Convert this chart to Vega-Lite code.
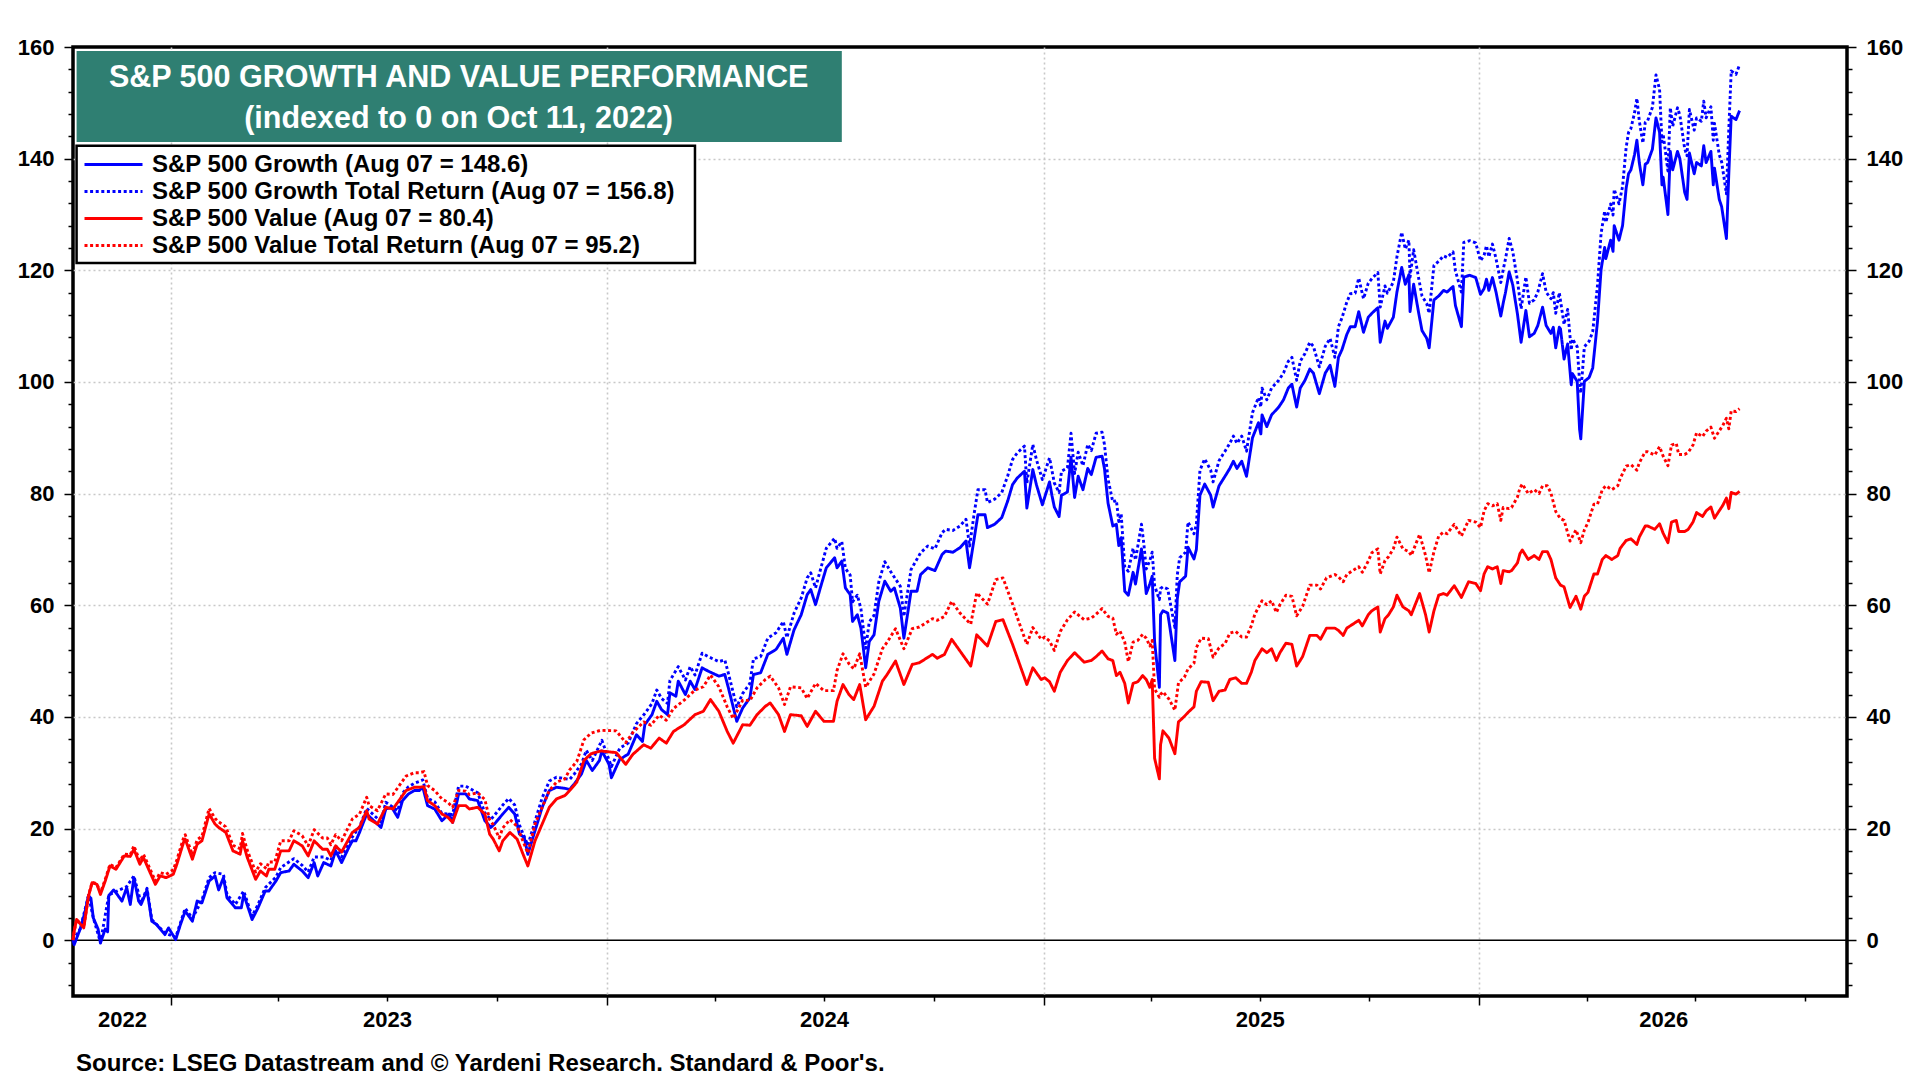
{
"$schema":"https://vega.github.io/schema/vega-lite/v6.json",
"width":1774,"height":949,
"autosize":{"type":"none"},
"padding":{"left":73,"top":47,"right":73,"bottom":84},
"background":"white",
"config":{
 "font":"Liberation Sans",
 "view":{"stroke":"#000000","strokeWidth":3.5},
 "axis":{"domain":false,"tickColor":"#000000","tickWidth":1.5,"labelFont":"Liberation Sans","labelFontSize":22,"labelFontWeight":"bold","labelColor":"#000000","gridColor":"#c8c8c8","gridDash":[2,3],"gridWidth":1.6,"labelFlush":false,"labelOverlap":false,"labelBound":false}
},
"title":{"text":"Source: LSEG Datastream and © Yardeni Research. Standard & Poor's.","orient":"bottom","anchor":"start","frame":"group","offset":18,"dx":3,"font":"Liberation Sans","fontSize":24,"fontWeight":"bold","color":"#000000"},
"datasets":{
"G":[{"d":"2022-10-11","v":0},{"d":"2022-10-12","v":-0.8},{"d":"2022-10-17","v":2},{"d":"2022-10-21","v":5},{"d":"2022-10-24","v":8},{"d":"2022-10-26","v":7.5},{"d":"2022-10-28","v":4},{"d":"2022-11-01","v":2},{"d":"2022-11-03","v":-0.5},{"d":"2022-11-07","v":2},{"d":"2022-11-09","v":1.5},{"d":"2022-11-10","v":8},{"d":"2022-11-14","v":9},{"d":"2022-11-16","v":8.5},{"d":"2022-11-21","v":7},{"d":"2022-11-25","v":9.4},{"d":"2022-11-28","v":6.4},{"d":"2022-12-01","v":11.2},{"d":"2022-12-05","v":7},{"d":"2022-12-07","v":6.4},{"d":"2022-12-12","v":9},{"d":"2022-12-16","v":3.4},{"d":"2022-12-20","v":2.8},{"d":"2022-12-27","v":1},{"d":"2022-12-30","v":2.2},{"d":"2023-01-05","v":0.1},{"d":"2023-01-09","v":2.8},{"d":"2023-01-13","v":5.2},{"d":"2023-01-19","v":3.4},{"d":"2023-01-23","v":7},{"d":"2023-01-27","v":6.7},{"d":"2023-02-02","v":10.6},{"d":"2023-02-07","v":11.5},{"d":"2023-02-10","v":9},{"d":"2023-02-14","v":11.2},{"d":"2023-02-17","v":7.6},{"d":"2023-02-24","v":5.8},{"d":"2023-03-01","v":5.8},{"d":"2023-03-03","v":8.2},{"d":"2023-03-10","v":3.7},{"d":"2023-03-15","v":5.8},{"d":"2023-03-21","v":8.8},{"d":"2023-03-24","v":8.8},{"d":"2023-03-30","v":10.6},{"d":"2023-04-03","v":12.1},{"d":"2023-04-10","v":12.4},{"d":"2023-04-14","v":13.6},{"d":"2023-04-21","v":12.4},{"d":"2023-04-26","v":11.2},{"d":"2023-05-01","v":13.9},{"d":"2023-05-04","v":11.5},{"d":"2023-05-09","v":13.9},{"d":"2023-05-15","v":13.3},{"d":"2023-05-19","v":16},{"d":"2023-05-24","v":13.9},{"d":"2023-05-30","v":16.6},{"d":"2023-06-02","v":17.8},{"d":"2023-06-05","v":17.8},{"d":"2023-06-08","v":19.3},{"d":"2023-06-14","v":22.6},{"d":"2023-06-20","v":21.4},{"d":"2023-06-26","v":20.2},{"d":"2023-06-30","v":23.5},{"d":"2023-07-05","v":23.8},{"d":"2023-07-10","v":22},{"d":"2023-07-14","v":25},{"d":"2023-07-19","v":26.2},{"d":"2023-07-24","v":26.8},{"d":"2023-07-28","v":26.8},{"d":"2023-07-31","v":27.4},{"d":"2023-08-04","v":24.1},{"d":"2023-08-10","v":23.5},{"d":"2023-08-16","v":21.4},{"d":"2023-08-22","v":22.6},{"d":"2023-08-25","v":21.1},{"d":"2023-08-30","v":26.2},{"d":"2023-09-05","v":26.2},{"d":"2023-09-08","v":25.3},{"d":"2023-09-15","v":25},{"d":"2023-09-21","v":21.4},{"d":"2023-09-26","v":20.2},{"d":"2023-09-29","v":20.8},{"d":"2023-10-06","v":22.6},{"d":"2023-10-11","v":23.8},{"d":"2023-10-16","v":22.6},{"d":"2023-10-20","v":19},{"d":"2023-10-24","v":18.4},{"d":"2023-10-27","v":15.4},{"d":"2023-11-02","v":19.6},{"d":"2023-11-08","v":23.8},{"d":"2023-11-14","v":26.8},{"d":"2023-11-20","v":27.4},{"d":"2023-11-27","v":27.2},{"d":"2023-12-01","v":27},{"d":"2023-12-05","v":28},{"d":"2023-12-11","v":29.8},{"d":"2023-12-15","v":32.2},{"d":"2023-12-20","v":30.4},{"d":"2023-12-26","v":32.2},{"d":"2023-12-28","v":33.9},{"d":"2024-01-03","v":31.5},{"d":"2024-01-05","v":29.1},{"d":"2024-01-12","v":32.4},{"d":"2024-01-19","v":33.3},{"d":"2024-01-26","v":36.8},{"d":"2024-01-31","v":35.6},{"d":"2024-02-02","v":38.6},{"d":"2024-02-08","v":40.4},{"d":"2024-02-12","v":42.8},{"d":"2024-02-16","v":41.3},{"d":"2024-02-21","v":40.4},{"d":"2024-02-23","v":44.3},{"d":"2024-02-28","v":43.7},{"d":"2024-03-01","v":46.4},{"d":"2024-03-07","v":44},{"d":"2024-03-11","v":46.4},{"d":"2024-03-15","v":44.9},{"d":"2024-03-21","v":48.8},{"d":"2024-03-26","v":48.2},{"d":"2024-04-01","v":47.6},{"d":"2024-04-04","v":47.3},{"d":"2024-04-09","v":47.6},{"d":"2024-04-12","v":45.2},{"d":"2024-04-19","v":39.2},{"d":"2024-04-24","v":41.6},{"d":"2024-04-30","v":43.4},{"d":"2024-05-03","v":47.6},{"d":"2024-05-09","v":47.9},{"d":"2024-05-15","v":51.2},{"d":"2024-05-22","v":52.1},{"d":"2024-05-28","v":54.1},{"d":"2024-05-31","v":51.2},{"d":"2024-06-06","v":55.6},{"d":"2024-06-12","v":58.3},{"d":"2024-06-17","v":61.9},{"d":"2024-06-20","v":62.8},{"d":"2024-06-24","v":60.1},{"d":"2024-06-28","v":63.1},{"d":"2024-07-03","v":66.7},{"d":"2024-07-10","v":68.5},{"d":"2024-07-12","v":66.7},{"d":"2024-07-16","v":67.9},{"d":"2024-07-19","v":63.1},{"d":"2024-07-23","v":61.9},{"d":"2024-07-25","v":57.1},{"d":"2024-07-29","v":58.3},{"d":"2024-08-01","v":55.9},{"d":"2024-08-05","v":48.8},{"d":"2024-08-08","v":53.5},{"d":"2024-08-12","v":54.7},{"d":"2024-08-16","v":60.7},{"d":"2024-08-21","v":64.3},{"d":"2024-08-26","v":62.5},{"d":"2024-08-29","v":63.1},{"d":"2024-09-03","v":59.5},{"d":"2024-09-06","v":54.1},{"d":"2024-09-12","v":62.5},{"d":"2024-09-17","v":62.5},{"d":"2024-09-20","v":65.5},{"d":"2024-09-26","v":66.7},{"d":"2024-10-02","v":66.2},{"d":"2024-10-08","v":69.1},{"d":"2024-10-11","v":69.7},{"d":"2024-10-17","v":69.5},{"d":"2024-10-23","v":70.3},{"d":"2024-10-28","v":71.5},{"d":"2024-10-31","v":66.7},{"d":"2024-11-04","v":72.1},{"d":"2024-11-07","v":76.2},{"d":"2024-11-13","v":76.2},{"d":"2024-11-15","v":73.9},{"d":"2024-11-21","v":74.5},{"d":"2024-11-27","v":75.7},{"d":"2024-12-02","v":78.7},{"d":"2024-12-06","v":81.6},{"d":"2024-12-10","v":82.8},{"d":"2024-12-16","v":84},{"d":"2024-12-18","v":77.4},{"d":"2024-12-23","v":84.3},{"d":"2024-12-26","v":81.6},{"d":"2024-12-31","v":78},{"d":"2025-01-06","v":82.1},{"d":"2025-01-08","v":79.7},{"d":"2025-01-10","v":77.6},{"d":"2025-01-14","v":75.9},{"d":"2025-01-16","v":79.7},{"d":"2025-01-21","v":80.3},{"d":"2025-01-24","v":86.5},{"d":"2025-01-27","v":79.3},{"d":"2025-01-30","v":83.1},{"d":"2025-02-03","v":80.7},{"d":"2025-02-07","v":84.5},{"d":"2025-02-10","v":83.4},{"d":"2025-02-14","v":86.5},{"d":"2025-02-19","v":86.7},{"d":"2025-02-21","v":84.5},{"d":"2025-02-24","v":78.3},{"d":"2025-02-28","v":74.2},{"d":"2025-03-03","v":74.5},{"d":"2025-03-05","v":70.7},{"d":"2025-03-07","v":72.1},{"d":"2025-03-10","v":62.5},{"d":"2025-03-13","v":61.8},{"d":"2025-03-17","v":65.9},{"d":"2025-03-19","v":63.8},{"d":"2025-03-24","v":70.1},{"d":"2025-03-26","v":66.6},{"d":"2025-03-28","v":62.1},{"d":"2025-03-31","v":63.8},{"d":"2025-04-02","v":65.2},{"d":"2025-04-04","v":53.5},{"d":"2025-04-08","v":45.3},{"d":"2025-04-09","v":58.3},{"d":"2025-04-11","v":59},{"d":"2025-04-15","v":58.6},{"d":"2025-04-21","v":50.1},{"d":"2025-04-23","v":61.1},{"d":"2025-04-25","v":64.2},{"d":"2025-04-30","v":65.2},{"d":"2025-05-02","v":70.4},{"d":"2025-05-07","v":68.3},{"d":"2025-05-09","v":70},{"d":"2025-05-12","v":79.7},{"d":"2025-05-16","v":81.7},{"d":"2025-05-21","v":79.7},{"d":"2025-05-23","v":77.6},{"d":"2025-05-28","v":81.4},{"d":"2025-06-02","v":83.1},{"d":"2025-06-06","v":84.5},{"d":"2025-06-09","v":85.8},{"d":"2025-06-12","v":84.5},{"d":"2025-06-16","v":85.8},{"d":"2025-06-20","v":83.1},{"d":"2025-06-25","v":90},{"d":"2025-06-30","v":92.7},{"d":"2025-07-02","v":90.7},{"d":"2025-07-03","v":94.1},{"d":"2025-07-07","v":92},{"d":"2025-07-11","v":94.1},{"d":"2025-07-17","v":95.5},{"d":"2025-07-21","v":96.8},{"d":"2025-07-25","v":98.9},{"d":"2025-07-28","v":99.6},{"d":"2025-08-01","v":95.5},{"d":"2025-08-04","v":98.9},{"d":"2025-08-08","v":100.3},{"d":"2025-08-12","v":102.3},{"d":"2025-08-15","v":101.6},{"d":"2025-08-20","v":97.9},{"d":"2025-08-25","v":101.6},{"d":"2025-08-29","v":103},{"d":"2025-09-02","v":99.2},{"d":"2025-09-05","v":104.4},{"d":"2025-09-08","v":105.8},{"d":"2025-09-12","v":108.5},{"d":"2025-09-15","v":109.9},{"d":"2025-09-19","v":109.9},{"d":"2025-09-22","v":112.6},{"d":"2025-09-26","v":108.9},{"d":"2025-09-30","v":111.6},{"d":"2025-10-03","v":112.3},{"d":"2025-10-08","v":113.3},{"d":"2025-10-10","v":107.1},{"d":"2025-10-14","v":110.9},{"d":"2025-10-16","v":109.6},{"d":"2025-10-21","v":111.6},{"d":"2025-10-24","v":116.1},{"d":"2025-10-28","v":120.5},{"d":"2025-10-31","v":117.5},{"d":"2025-11-03","v":119.2},{"d":"2025-11-04","v":112.6},{"d":"2025-11-07","v":117.5},{"d":"2025-11-11","v":112.6},{"d":"2025-11-14","v":109.2},{"d":"2025-11-18","v":107.8},{"d":"2025-11-20","v":106.1},{"d":"2025-11-24","v":114.7},{"d":"2025-11-28","v":115.4},{"d":"2025-12-02","v":116.4},{"d":"2025-12-05","v":116.1},{"d":"2025-12-10","v":117.1},{"d":"2025-12-12","v":113.7},{"d":"2025-12-17","v":109.9},{"d":"2025-12-19","v":118.8},{"d":"2025-12-24","v":119.1},{"d":"2025-12-29","v":118.7},{"d":"2026-01-02","v":115.7},{"d":"2026-01-05","v":116.7},{"d":"2026-01-07","v":118.4},{"d":"2026-01-09","v":116.4},{"d":"2026-01-12","v":118.7},{"d":"2026-01-15","v":116.1},{"d":"2026-01-19","v":111.8},{"d":"2026-01-21","v":114.1},{"d":"2026-01-23","v":116.1},{"d":"2026-01-26","v":119.7},{"d":"2026-01-29","v":117.4},{"d":"2026-02-02","v":112.1},{"d":"2026-02-05","v":107.1},{"d":"2026-02-09","v":112.8},{"d":"2026-02-12","v":108.1},{"d":"2026-02-16","v":108.7},{"d":"2026-02-19","v":110.1},{"d":"2026-02-23","v":113.4},{"d":"2026-02-26","v":110.1},{"d":"2026-03-02","v":108.7},{"d":"2026-03-04","v":109.8},{"d":"2026-03-06","v":106.1},{"d":"2026-03-09","v":109.8},{"d":"2026-03-10","v":109.5},{"d":"2026-03-13","v":104.1},{"d":"2026-03-16","v":106.8},{"d":"2026-03-19","v":99.5},{"d":"2026-03-20","v":101.5},{"d":"2026-03-24","v":100.1},{"d":"2026-03-26","v":91.5},{"d":"2026-03-27","v":89.8},{"d":"2026-03-30","v":100.1},{"d":"2026-04-03","v":100.8},{"d":"2026-04-06","v":102.5},{"d":"2026-04-10","v":110.8},{"d":"2026-04-13","v":120.1},{"d":"2026-04-16","v":124.1},{"d":"2026-04-17","v":122.1},{"d":"2026-04-21","v":125.4},{"d":"2026-04-23","v":123.4},{"d":"2026-04-24","v":128},{"d":"2026-04-28","v":125.4},{"d":"2026-05-01","v":128},{"d":"2026-05-04","v":134.7},{"d":"2026-05-06","v":137.3},{"d":"2026-05-08","v":138},{"d":"2026-05-11","v":140.7},{"d":"2026-05-13","v":143.3},{"d":"2026-05-15","v":139.3},{"d":"2026-05-18","v":135.3},{"d":"2026-05-20","v":139},{"d":"2026-05-22","v":139.3},{"d":"2026-05-26","v":141.7},{"d":"2026-05-29","v":147.3},{"d":"2026-06-01","v":144.7},{"d":"2026-06-03","v":135.3},{"d":"2026-06-04","v":136.7},{"d":"2026-06-08","v":130},{"d":"2026-06-10","v":141.3},{"d":"2026-06-12","v":138},{"d":"2026-06-16","v":141.3},{"d":"2026-06-18","v":140},{"d":"2026-06-22","v":134},{"d":"2026-06-24","v":132.7},{"d":"2026-06-26","v":141},{"d":"2026-06-30","v":137.3},{"d":"2026-07-02","v":139.3},{"d":"2026-07-06","v":138.7},{"d":"2026-07-08","v":142.3},{"d":"2026-07-10","v":139.3},{"d":"2026-07-14","v":141.3},{"d":"2026-07-16","v":135.3},{"d":"2026-07-17","v":138.3},{"d":"2026-07-21","v":132.7},{"d":"2026-07-23","v":131.4},{"d":"2026-07-27","v":125.7},{"d":"2026-07-29","v":137.3},{"d":"2026-07-31","v":147.6},{"d":"2026-08-04","v":147},{"d":"2026-08-07","v":148.6}],
"GT":[{"d":"2022-10-11","v":0},{"d":"2022-10-17","v":2},{"d":"2022-10-24","v":8},{"d":"2022-10-28","v":4},{"d":"2022-11-03","v":-0.4},{"d":"2022-11-10","v":8.1},{"d":"2022-11-16","v":8.7},{"d":"2022-11-25","v":9.6},{"d":"2022-12-01","v":11.5},{"d":"2022-12-07","v":6.7},{"d":"2022-12-12","v":9.3},{"d":"2022-12-16","v":3.7},{"d":"2022-12-27","v":1.3},{"d":"2023-01-05","v":0.5},{"d":"2023-01-13","v":5.7},{"d":"2023-01-19","v":3.9},{"d":"2023-01-27","v":7.2},{"d":"2023-02-02","v":11.2},{"d":"2023-02-07","v":12.1},{"d":"2023-02-14","v":11.8},{"d":"2023-02-17","v":8.2},{"d":"2023-02-24","v":6.4},{"d":"2023-03-03","v":8.8},{"d":"2023-03-10","v":4.3},{"d":"2023-03-15","v":6.4},{"d":"2023-03-21","v":9.4},{"d":"2023-03-30","v":11.3},{"d":"2023-04-03","v":13},{"d":"2023-04-14","v":14.6},{"d":"2023-04-21","v":13.4},{"d":"2023-04-26","v":12.2},{"d":"2023-05-01","v":14.9},{"d":"2023-05-09","v":14.9},{"d":"2023-05-15","v":14.3},{"d":"2023-05-19","v":17},{"d":"2023-05-24","v":14.9},{"d":"2023-05-30","v":17.6},{"d":"2023-06-08","v":20.3},{"d":"2023-06-14","v":23.6},{"d":"2023-06-20","v":22.4},{"d":"2023-06-26","v":21.2},{"d":"2023-06-30","v":24.7},{"d":"2023-07-10","v":23.2},{"d":"2023-07-14","v":26.3},{"d":"2023-07-19","v":27.5},{"d":"2023-07-24","v":28.1},{"d":"2023-07-31","v":28.7},{"d":"2023-08-04","v":25.4},{"d":"2023-08-10","v":24.8},{"d":"2023-08-16","v":22.7},{"d":"2023-08-25","v":22.5},{"d":"2023-08-30","v":27.6},{"d":"2023-09-05","v":27.6},{"d":"2023-09-15","v":26.4},{"d":"2023-09-21","v":22.8},{"d":"2023-09-26","v":21.6},{"d":"2023-10-06","v":24.2},{"d":"2023-10-11","v":25.4},{"d":"2023-10-16","v":24.2},{"d":"2023-10-20","v":20.6},{"d":"2023-10-27","v":17},{"d":"2023-11-02","v":21.3},{"d":"2023-11-08","v":25.5},{"d":"2023-11-14","v":28.5},{"d":"2023-11-20","v":29.2},{"d":"2023-12-01","v":28.8},{"d":"2023-12-05","v":29.8},{"d":"2023-12-11","v":31.6},{"d":"2023-12-15","v":34},{"d":"2023-12-20","v":32.2},{"d":"2023-12-28","v":35.8},{"d":"2024-01-05","v":31.1},{"d":"2024-01-12","v":34.4},{"d":"2024-01-19","v":35.3},{"d":"2024-01-26","v":38.8},{"d":"2024-02-02","v":40.6},{"d":"2024-02-08","v":42.4},{"d":"2024-02-12","v":44.8},{"d":"2024-02-16","v":43.3},{"d":"2024-02-21","v":42.4},{"d":"2024-02-23","v":46.5},{"d":"2024-03-01","v":49},{"d":"2024-03-07","v":46.6},{"d":"2024-03-11","v":49},{"d":"2024-03-15","v":47.5},{"d":"2024-03-21","v":51.4},{"d":"2024-03-26","v":50.8},{"d":"2024-04-04","v":49.9},{"d":"2024-04-09","v":50.2},{"d":"2024-04-12","v":47.8},{"d":"2024-04-19","v":41.8},{"d":"2024-04-24","v":44.2},{"d":"2024-04-30","v":46},{"d":"2024-05-03","v":50.4},{"d":"2024-05-09","v":50.8},{"d":"2024-05-15","v":54.1},{"d":"2024-05-22","v":55.1},{"d":"2024-05-28","v":57.1},{"d":"2024-05-31","v":54.2},{"d":"2024-06-06","v":58.6},{"d":"2024-06-12","v":61.3},{"d":"2024-06-17","v":64.9},{"d":"2024-06-20","v":65.8},{"d":"2024-06-24","v":63.1},{"d":"2024-06-28","v":66.3},{"d":"2024-07-03","v":70.2},{"d":"2024-07-10","v":72},{"d":"2024-07-12","v":70.2},{"d":"2024-07-16","v":71.4},{"d":"2024-07-19","v":66.6},{"d":"2024-07-23","v":65.4},{"d":"2024-07-25","v":60.6},{"d":"2024-07-29","v":61.8},{"d":"2024-08-01","v":59.4},{"d":"2024-08-05","v":52.3},{"d":"2024-08-08","v":57},{"d":"2024-08-12","v":58.2},{"d":"2024-08-16","v":64.2},{"d":"2024-08-21","v":67.8},{"d":"2024-08-26","v":66},{"d":"2024-09-03","v":63.4},{"d":"2024-09-06","v":58},{"d":"2024-09-12","v":66.4},{"d":"2024-09-20","v":69.4},{"d":"2024-09-26","v":70.6},{"d":"2024-10-02","v":70.1},{"d":"2024-10-08","v":73},{"d":"2024-10-11","v":73.6},{"d":"2024-10-17","v":73.4},{"d":"2024-10-23","v":74.2},{"d":"2024-10-28","v":75.4},{"d":"2024-10-31","v":70.6},{"d":"2024-11-04","v":76.6},{"d":"2024-11-07","v":80.7},{"d":"2024-11-13","v":80.7},{"d":"2024-11-15","v":78.4},{"d":"2024-11-21","v":79},{"d":"2024-11-27","v":80.2},{"d":"2024-12-02","v":83.2},{"d":"2024-12-06","v":86.1},{"d":"2024-12-10","v":87.3},{"d":"2024-12-16","v":88.5},{"d":"2024-12-18","v":81.9},{"d":"2024-12-23","v":88.8},{"d":"2024-12-26","v":86.1},{"d":"2024-12-31","v":82.5},{"d":"2025-01-06","v":86.4},{"d":"2025-01-10","v":81.9},{"d":"2025-01-14","v":80.2},{"d":"2025-01-16","v":84},{"d":"2025-01-21","v":84.6},{"d":"2025-01-24","v":90.8},{"d":"2025-01-27","v":83.6},{"d":"2025-01-30","v":87.4},{"d":"2025-02-03","v":85},{"d":"2025-02-07","v":88.8},{"d":"2025-02-10","v":87.7},{"d":"2025-02-14","v":90.8},{"d":"2025-02-19","v":91},{"d":"2025-02-21","v":88.8},{"d":"2025-02-24","v":82.6},{"d":"2025-02-28","v":78.5},{"d":"2025-03-03","v":78.8},{"d":"2025-03-05","v":75},{"d":"2025-03-07","v":76.4},{"d":"2025-03-10","v":66.8},{"d":"2025-03-13","v":66.1},{"d":"2025-03-17","v":70.2},{"d":"2025-03-19","v":68.1},{"d":"2025-03-24","v":74.5},{"d":"2025-03-26","v":71},{"d":"2025-03-28","v":66.5},{"d":"2025-03-31","v":68},{"d":"2025-04-02","v":69.5},{"d":"2025-04-04","v":63.5},{"d":"2025-04-08","v":61},{"d":"2025-04-09","v":63},{"d":"2025-04-11","v":63.3},{"d":"2025-04-15","v":62.9},{"d":"2025-04-21","v":56},{"d":"2025-04-23","v":65.4},{"d":"2025-04-25","v":68.5},{"d":"2025-04-30","v":69.5},{"d":"2025-05-02","v":74.9},{"d":"2025-05-07","v":72.8},{"d":"2025-05-09","v":74.5},{"d":"2025-05-12","v":84.2},{"d":"2025-05-16","v":86.2},{"d":"2025-05-21","v":84.2},{"d":"2025-05-23","v":82.1},{"d":"2025-05-28","v":85.9},{"d":"2025-06-02","v":87.6},{"d":"2025-06-06","v":89},{"d":"2025-06-09","v":90.3},{"d":"2025-06-12","v":89},{"d":"2025-06-16","v":90.3},{"d":"2025-06-20","v":87.6},{"d":"2025-06-25","v":94.5},{"d":"2025-06-30","v":97.2},{"d":"2025-07-02","v":95.5},{"d":"2025-07-03","v":98.9},{"d":"2025-07-07","v":96.8},{"d":"2025-07-11","v":98.9},{"d":"2025-07-17","v":100.3},{"d":"2025-07-21","v":101.6},{"d":"2025-07-25","v":103.7},{"d":"2025-07-28","v":104.4},{"d":"2025-08-01","v":100.3},{"d":"2025-08-04","v":103.7},{"d":"2025-08-08","v":105.1},{"d":"2025-08-12","v":107.1},{"d":"2025-08-15","v":106.4},{"d":"2025-08-20","v":102.7},{"d":"2025-08-25","v":106.4},{"d":"2025-08-29","v":107.8},{"d":"2025-09-02","v":104.4},{"d":"2025-09-05","v":109.9},{"d":"2025-09-08","v":111.5},{"d":"2025-09-12","v":114.3},{"d":"2025-09-15","v":115.8},{"d":"2025-09-19","v":115.9},{"d":"2025-09-22","v":118.6},{"d":"2025-09-26","v":114.9},{"d":"2025-09-30","v":117.7},{"d":"2025-10-03","v":118.5},{"d":"2025-10-08","v":119.6},{"d":"2025-10-10","v":113.4},{"d":"2025-10-14","v":117.2},{"d":"2025-10-16","v":115.9},{"d":"2025-10-21","v":117.9},{"d":"2025-10-24","v":122.4},{"d":"2025-10-28","v":126.8},{"d":"2025-10-31","v":123.8},{"d":"2025-11-03","v":125.4},{"d":"2025-11-04","v":118.8},{"d":"2025-11-07","v":123.7},{"d":"2025-11-11","v":118.8},{"d":"2025-11-14","v":115.4},{"d":"2025-11-18","v":114},{"d":"2025-11-20","v":112.3},{"d":"2025-11-24","v":120.9},{"d":"2025-11-28","v":121.6},{"d":"2025-12-02","v":122.6},{"d":"2025-12-05","v":122.3},{"d":"2025-12-10","v":123.3},{"d":"2025-12-12","v":119.9},{"d":"2025-12-17","v":116.1},{"d":"2025-12-19","v":125},{"d":"2025-12-24","v":125.3},{"d":"2025-12-29","v":124.9},{"d":"2026-01-02","v":121.7},{"d":"2026-01-05","v":122.7},{"d":"2026-01-07","v":124.4},{"d":"2026-01-09","v":122.4},{"d":"2026-01-12","v":124.7},{"d":"2026-01-15","v":122.1},{"d":"2026-01-19","v":117.8},{"d":"2026-01-21","v":120.1},{"d":"2026-01-23","v":122.1},{"d":"2026-01-26","v":125.7},{"d":"2026-01-29","v":123.4},{"d":"2026-02-02","v":118.1},{"d":"2026-02-05","v":113.1},{"d":"2026-02-09","v":118.8},{"d":"2026-02-12","v":114.1},{"d":"2026-02-16","v":114.7},{"d":"2026-02-19","v":116.1},{"d":"2026-02-23","v":119.4},{"d":"2026-02-26","v":116.1},{"d":"2026-03-02","v":114.9},{"d":"2026-03-04","v":116},{"d":"2026-03-06","v":112.3},{"d":"2026-03-09","v":116},{"d":"2026-03-13","v":110.3},{"d":"2026-03-16","v":113},{"d":"2026-03-19","v":105.7},{"d":"2026-03-20","v":107.7},{"d":"2026-03-24","v":106.3},{"d":"2026-03-26","v":100},{"d":"2026-03-27","v":98},{"d":"2026-03-30","v":106.3},{"d":"2026-04-03","v":107.3},{"d":"2026-04-06","v":109},{"d":"2026-04-10","v":117.3},{"d":"2026-04-13","v":126.6},{"d":"2026-04-16","v":130.6},{"d":"2026-04-17","v":128.6},{"d":"2026-04-21","v":131.9},{"d":"2026-04-23","v":129.9},{"d":"2026-04-24","v":134.5},{"d":"2026-04-28","v":131.9},{"d":"2026-05-01","v":135},{"d":"2026-05-04","v":142},{"d":"2026-05-06","v":144.7},{"d":"2026-05-08","v":145.4},{"d":"2026-05-11","v":148.2},{"d":"2026-05-13","v":150.8},{"d":"2026-05-15","v":146.8},{"d":"2026-05-18","v":142.8},{"d":"2026-05-20","v":146.5},{"d":"2026-05-22","v":146.8},{"d":"2026-05-26","v":149.2},{"d":"2026-05-29","v":155},{"d":"2026-06-01","v":152.4},{"d":"2026-06-03","v":143},{"d":"2026-06-04","v":144.4},{"d":"2026-06-08","v":137.8},{"d":"2026-06-10","v":149.1},{"d":"2026-06-12","v":145.8},{"d":"2026-06-16","v":149.1},{"d":"2026-06-18","v":147.8},{"d":"2026-06-22","v":141.8},{"d":"2026-06-24","v":140.5},{"d":"2026-06-26","v":148.8},{"d":"2026-06-30","v":145.1},{"d":"2026-07-02","v":147.3},{"d":"2026-07-06","v":146.7},{"d":"2026-07-08","v":150.3},{"d":"2026-07-10","v":147.3},{"d":"2026-07-14","v":149.3},{"d":"2026-07-16","v":143.3},{"d":"2026-07-17","v":146.3},{"d":"2026-07-21","v":140.7},{"d":"2026-07-23","v":139.4},{"d":"2026-07-27","v":133.7},{"d":"2026-07-29","v":145.3},{"d":"2026-07-31","v":155.7},{"d":"2026-08-04","v":155.1},{"d":"2026-08-07","v":156.8}],
"V":[{"d":"2022-10-11","v":0},{"d":"2022-10-12","v":1.6},{"d":"2022-10-14","v":3.7},{"d":"2022-10-20","v":2.2},{"d":"2022-10-24","v":7.9},{"d":"2022-10-27","v":10.3},{"d":"2022-10-31","v":10},{"d":"2022-11-03","v":8.2},{"d":"2022-11-07","v":10.6},{"d":"2022-11-11","v":13.3},{"d":"2022-11-16","v":12.7},{"d":"2022-11-23","v":15.1},{"d":"2022-11-28","v":15},{"d":"2022-12-01","v":16.3},{"d":"2022-12-06","v":13.6},{"d":"2022-12-09","v":14.8},{"d":"2022-12-14","v":12.4},{"d":"2022-12-19","v":10},{"d":"2022-12-23","v":11.5},{"d":"2022-12-28","v":11.2},{"d":"2023-01-03","v":11.8},{"d":"2023-01-06","v":13.6},{"d":"2023-01-12","v":17.8},{"d":"2023-01-13","v":18.1},{"d":"2023-01-19","v":14.5},{"d":"2023-01-23","v":17.2},{"d":"2023-01-27","v":17.8},{"d":"2023-02-02","v":22.6},{"d":"2023-02-07","v":20.8},{"d":"2023-02-10","v":20.2},{"d":"2023-02-16","v":19.3},{"d":"2023-02-22","v":16},{"d":"2023-02-28","v":15.4},{"d":"2023-03-02","v":17.8},{"d":"2023-03-06","v":14.8},{"d":"2023-03-13","v":10.9},{"d":"2023-03-17","v":12.4},{"d":"2023-03-22","v":11.5},{"d":"2023-03-24","v":12.7},{"d":"2023-03-29","v":12.7},{"d":"2023-04-03","v":16},{"d":"2023-04-10","v":16},{"d":"2023-04-14","v":17.8},{"d":"2023-04-21","v":16.9},{"d":"2023-04-26","v":15.1},{"d":"2023-05-01","v":17.8},{"d":"2023-05-08","v":16.3},{"d":"2023-05-12","v":16.3},{"d":"2023-05-15","v":15.1},{"d":"2023-05-19","v":16.9},{"d":"2023-05-24","v":15.8},{"d":"2023-06-02","v":19.3},{"d":"2023-06-08","v":20.2},{"d":"2023-06-14","v":23.2},{"d":"2023-06-16","v":21.7},{"d":"2023-06-23","v":20.8},{"d":"2023-06-30","v":23.8},{"d":"2023-07-06","v":23.5},{"d":"2023-07-11","v":25},{"d":"2023-07-17","v":26.8},{"d":"2023-07-24","v":27.4},{"d":"2023-07-28","v":27.4},{"d":"2023-08-01","v":27.5},{"d":"2023-08-04","v":25},{"d":"2023-08-10","v":24.1},{"d":"2023-08-16","v":22.6},{"d":"2023-08-21","v":22},{"d":"2023-08-25","v":21.1},{"d":"2023-08-30","v":24.1},{"d":"2023-09-05","v":24.1},{"d":"2023-09-08","v":23.5},{"d":"2023-09-15","v":23.8},{"d":"2023-09-21","v":22.6},{"d":"2023-09-25","v":19},{"d":"2023-09-28","v":18.1},{"d":"2023-10-03","v":16},{"d":"2023-10-06","v":17.8},{"d":"2023-10-12","v":19.3},{"d":"2023-10-18","v":18.1},{"d":"2023-10-23","v":15.4},{"d":"2023-10-27","v":13.3},{"d":"2023-11-02","v":17.8},{"d":"2023-11-08","v":20.8},{"d":"2023-11-14","v":23.8},{"d":"2023-11-20","v":25.3},{"d":"2023-11-27","v":25.9},{"d":"2023-12-01","v":26.8},{"d":"2023-12-07","v":28.3},{"d":"2023-12-13","v":32.2},{"d":"2023-12-19","v":33.4},{"d":"2023-12-27","v":33.9},{"d":"2024-01-09","v":33.6},{"d":"2024-01-17","v":31.5},{"d":"2024-01-23","v":33.3},{"d":"2024-02-01","v":35},{"d":"2024-02-07","v":34.4},{"d":"2024-02-14","v":36.2},{"d":"2024-02-20","v":35.3},{"d":"2024-02-26","v":37.4},{"d":"2024-03-06","v":38.6},{"d":"2024-03-15","v":40.4},{"d":"2024-03-22","v":41},{"d":"2024-03-28","v":43.1},{"d":"2024-04-04","v":41},{"d":"2024-04-11","v":37.4},{"d":"2024-04-16","v":35.3},{"d":"2024-04-24","v":38.6},{"d":"2024-04-30","v":38.5},{"d":"2024-05-06","v":40.4},{"d":"2024-05-13","v":41.9},{"d":"2024-05-17","v":42.5},{"d":"2024-05-24","v":40.4},{"d":"2024-05-29","v":37.4},{"d":"2024-06-03","v":40.4},{"d":"2024-06-12","v":40.2},{"d":"2024-06-17","v":38.3},{"d":"2024-06-24","v":41},{"d":"2024-07-01","v":39.2},{"d":"2024-07-09","v":39.2},{"d":"2024-07-12","v":42.8},{"d":"2024-07-17","v":45.8},{"d":"2024-07-22","v":44},{"d":"2024-07-26","v":43.1},{"d":"2024-07-31","v":45.8},{"d":"2024-08-05","v":39.5},{"d":"2024-08-12","v":41.9},{"d":"2024-08-19","v":46.4},{"d":"2024-08-23","v":47.6},{"d":"2024-08-30","v":50},{"d":"2024-09-06","v":45.8},{"d":"2024-09-13","v":49.4},{"d":"2024-09-19","v":49.7},{"d":"2024-09-30","v":51.2},{"d":"2024-10-04","v":50.5},{"d":"2024-10-10","v":51.2},{"d":"2024-10-16","v":53.9},{"d":"2024-10-23","v":51.8},{"d":"2024-11-01","v":49.1},{"d":"2024-11-06","v":54.7},{"d":"2024-11-15","v":52.7},{"d":"2024-11-22","v":57.1},{"d":"2024-11-28","v":57.4},{"d":"2024-12-06","v":53},{"d":"2024-12-18","v":45.8},{"d":"2024-12-23","v":48.8},{"d":"2024-12-30","v":46.7},{"d":"2025-01-02","v":47},{"d":"2025-01-06","v":46.3},{"d":"2025-01-10","v":44.6},{"d":"2025-01-15","v":48},{"d":"2025-01-21","v":50.1},{"d":"2025-01-27","v":51.5},{"d":"2025-02-04","v":49.8},{"d":"2025-02-10","v":50.1},{"d":"2025-02-14","v":50.8},{"d":"2025-02-19","v":51.8},{"d":"2025-02-24","v":50.4},{"d":"2025-02-28","v":50.1},{"d":"2025-03-03","v":47.4},{"d":"2025-03-06","v":48},{"d":"2025-03-10","v":46},{"d":"2025-03-13","v":42.5},{"d":"2025-03-17","v":46},{"d":"2025-03-21","v":46.3},{"d":"2025-03-25","v":47.4},{"d":"2025-03-28","v":46.7},{"d":"2025-03-31","v":45.3},{"d":"2025-04-02","v":46.7},{"d":"2025-04-04","v":32.6},{"d":"2025-04-08","v":28.9},{"d":"2025-04-09","v":35},{"d":"2025-04-11","v":37.5},{"d":"2025-04-16","v":36.2},{"d":"2025-04-21","v":33.4},{"d":"2025-04-24","v":39.1},{"d":"2025-04-29","v":40.1},{"d":"2025-05-02","v":40.8},{"d":"2025-05-07","v":41.8},{"d":"2025-05-09","v":44.6},{"d":"2025-05-13","v":46.3},{"d":"2025-05-19","v":46.2},{"d":"2025-05-23","v":42.9},{"d":"2025-05-28","v":44.6},{"d":"2025-06-02","v":44.8},{"d":"2025-06-06","v":46.7},{"d":"2025-06-11","v":47},{"d":"2025-06-16","v":46},{"d":"2025-06-20","v":46},{"d":"2025-06-24","v":48},{"d":"2025-06-27","v":50.1},{"d":"2025-07-03","v":52.2},{"d":"2025-07-07","v":51.5},{"d":"2025-07-11","v":52.2},{"d":"2025-07-15","v":50.1},{"d":"2025-07-18","v":51.5},{"d":"2025-07-23","v":53.2},{"d":"2025-07-28","v":53},{"d":"2025-08-01","v":49.1},{"d":"2025-08-06","v":50.8},{"d":"2025-08-12","v":54.6},{"d":"2025-08-18","v":54.6},{"d":"2025-08-21","v":53.9},{"d":"2025-08-26","v":55.9},{"d":"2025-09-02","v":55.9},{"d":"2025-09-05","v":55.5},{"d":"2025-09-09","v":54.6},{"d":"2025-09-12","v":55.9},{"d":"2025-09-17","v":56.6},{"d":"2025-09-22","v":57.3},{"d":"2025-09-25","v":56.3},{"d":"2025-09-30","v":58.3},{"d":"2025-10-03","v":59},{"d":"2025-10-08","v":59.7},{"d":"2025-10-10","v":55.2},{"d":"2025-10-14","v":57.6},{"d":"2025-10-17","v":58.3},{"d":"2025-10-21","v":59.7},{"d":"2025-10-24","v":61.8},{"d":"2025-10-29","v":59.7},{"d":"2025-11-03","v":59},{"d":"2025-11-05","v":58.3},{"d":"2025-11-12","v":62.1},{"d":"2025-11-17","v":58.3},{"d":"2025-11-20","v":55.2},{"d":"2025-11-24","v":59},{"d":"2025-11-28","v":61.8},{"d":"2025-12-02","v":62.1},{"d":"2025-12-05","v":61.8},{"d":"2025-12-11","v":63.5},{"d":"2025-12-17","v":61.4},{"d":"2025-12-23","v":64.2},{"d":"2025-12-29","v":63.9},{"d":"2026-01-02","v":62.6},{"d":"2026-01-05","v":65.6},{"d":"2026-01-08","v":66.9},{"d":"2026-01-12","v":66.5},{"d":"2026-01-16","v":66.9},{"d":"2026-01-19","v":63.9},{"d":"2026-01-21","v":66.2},{"d":"2026-01-26","v":66},{"d":"2026-01-28","v":66.2},{"d":"2026-02-02","v":67.6},{"d":"2026-02-04","v":69.2},{"d":"2026-02-06","v":69.9},{"d":"2026-02-11","v":68.2},{"d":"2026-02-16","v":68.9},{"d":"2026-02-20","v":68.2},{"d":"2026-02-23","v":69.6},{"d":"2026-02-27","v":69.6},{"d":"2026-03-02","v":68.2},{"d":"2026-03-06","v":64.9},{"d":"2026-03-10","v":63.6},{"d":"2026-03-13","v":63.3},{"d":"2026-03-18","v":59.6},{"d":"2026-03-23","v":61.6},{"d":"2026-03-27","v":59.3},{"d":"2026-03-30","v":61.6},{"d":"2026-04-02","v":62.3},{"d":"2026-04-07","v":65.6},{"d":"2026-04-10","v":65.6},{"d":"2026-04-14","v":68.2},{"d":"2026-04-17","v":68.9},{"d":"2026-04-22","v":68.2},{"d":"2026-04-27","v":68.9},{"d":"2026-04-29","v":70.2},{"d":"2026-05-04","v":71.6},{"d":"2026-05-08","v":71.9},{"d":"2026-05-13","v":70.9},{"d":"2026-05-15","v":72.2},{"d":"2026-05-20","v":74.2},{"d":"2026-05-22","v":74.2},{"d":"2026-05-28","v":73.6},{"d":"2026-06-01","v":74.6},{"d":"2026-06-04","v":72.9},{"d":"2026-06-08","v":71.2},{"d":"2026-06-11","v":74.9},{"d":"2026-06-15","v":75.2},{"d":"2026-06-17","v":73.2},{"d":"2026-06-22","v":73.2},{"d":"2026-06-25","v":73.6},{"d":"2026-06-29","v":74.9},{"d":"2026-07-02","v":76.6},{"d":"2026-07-07","v":75.9},{"d":"2026-07-10","v":76.9},{"d":"2026-07-14","v":77.6},{"d":"2026-07-17","v":75.6},{"d":"2026-07-20","v":76.6},{"d":"2026-07-24","v":77.9},{"d":"2026-07-27","v":79.2},{"d":"2026-07-29","v":77.3},{"d":"2026-07-31","v":80.2},{"d":"2026-08-04","v":79.9},{"d":"2026-08-07","v":80.4}],
"VT":[{"d":"2022-10-11","v":0},{"d":"2022-10-12","v":1.6},{"d":"2022-10-14","v":3.7},{"d":"2022-10-20","v":2.3},{"d":"2022-10-24","v":8},{"d":"2022-10-27","v":10.4},{"d":"2022-10-31","v":10.1},{"d":"2022-11-03","v":8.5},{"d":"2022-11-07","v":10.9},{"d":"2022-11-11","v":13.6},{"d":"2022-11-16","v":13},{"d":"2022-11-23","v":15.4},{"d":"2022-11-28","v":15.3},{"d":"2022-12-01","v":16.9},{"d":"2022-12-06","v":14.2},{"d":"2022-12-09","v":15.4},{"d":"2022-12-14","v":13},{"d":"2022-12-19","v":10.6},{"d":"2022-12-23","v":12.1},{"d":"2022-12-28","v":11.8},{"d":"2023-01-03","v":12.6},{"d":"2023-01-06","v":14.4},{"d":"2023-01-12","v":18.6},{"d":"2023-01-13","v":18.9},{"d":"2023-01-19","v":15.3},{"d":"2023-01-23","v":18},{"d":"2023-01-27","v":18.6},{"d":"2023-02-02","v":23.6},{"d":"2023-02-07","v":21.8},{"d":"2023-02-10","v":21.2},{"d":"2023-02-16","v":20.3},{"d":"2023-02-22","v":17},{"d":"2023-02-28","v":16.4},{"d":"2023-03-02","v":19.1},{"d":"2023-03-06","v":16.1},{"d":"2023-03-13","v":12.2},{"d":"2023-03-17","v":13.7},{"d":"2023-03-22","v":12.8},{"d":"2023-03-24","v":14},{"d":"2023-03-29","v":14},{"d":"2023-04-03","v":17.8},{"d":"2023-04-10","v":17.8},{"d":"2023-04-14","v":19.6},{"d":"2023-04-21","v":18.7},{"d":"2023-04-26","v":16.9},{"d":"2023-05-01","v":19.8},{"d":"2023-05-08","v":18.3},{"d":"2023-05-12","v":18.3},{"d":"2023-05-15","v":17.1},{"d":"2023-05-19","v":18.9},{"d":"2023-05-24","v":17.8},{"d":"2023-06-02","v":21.7},{"d":"2023-06-08","v":22.6},{"d":"2023-06-14","v":25.6},{"d":"2023-06-16","v":24.1},{"d":"2023-06-23","v":23.2},{"d":"2023-06-30","v":26.2},{"d":"2023-07-06","v":26.1},{"d":"2023-07-11","v":27.6},{"d":"2023-07-17","v":29.4},{"d":"2023-07-24","v":30},{"d":"2023-07-28","v":30},{"d":"2023-08-01","v":30.2},{"d":"2023-08-04","v":27.7},{"d":"2023-08-10","v":26.8},{"d":"2023-08-16","v":25.3},{"d":"2023-08-21","v":24.7},{"d":"2023-08-25","v":23.8},{"d":"2023-08-30","v":26.8},{"d":"2023-09-05","v":26.7},{"d":"2023-09-08","v":26.1},{"d":"2023-09-15","v":26.4},{"d":"2023-09-21","v":25.2},{"d":"2023-09-25","v":21.6},{"d":"2023-09-28","v":20.7},{"d":"2023-10-03","v":18.3},{"d":"2023-10-06","v":20.1},{"d":"2023-10-12","v":21.6},{"d":"2023-10-18","v":20.4},{"d":"2023-10-23","v":17.7},{"d":"2023-10-27","v":15.6},{"d":"2023-11-02","v":20.8},{"d":"2023-11-08","v":23.8},{"d":"2023-11-14","v":26.8},{"d":"2023-11-20","v":28.3},{"d":"2023-11-27","v":28.9},{"d":"2023-12-01","v":30.5},{"d":"2023-12-07","v":32},{"d":"2023-12-13","v":35.9},{"d":"2023-12-19","v":37.1},{"d":"2023-12-27","v":37.6},{"d":"2024-01-09","v":37.5},{"d":"2024-01-17","v":35.4},{"d":"2024-01-23","v":37.2},{"d":"2024-02-01","v":39.1},{"d":"2024-02-07","v":38.5},{"d":"2024-02-14","v":40.3},{"d":"2024-02-20","v":39.4},{"d":"2024-02-26","v":41.5},{"d":"2024-03-06","v":43},{"d":"2024-03-15","v":44.8},{"d":"2024-03-22","v":45.4},{"d":"2024-03-28","v":47.5},{"d":"2024-04-04","v":45.4},{"d":"2024-04-11","v":41.8},{"d":"2024-04-16","v":39.7},{"d":"2024-04-24","v":43},{"d":"2024-04-30","v":42.9},{"d":"2024-05-06","v":45.2},{"d":"2024-05-13","v":46.7},{"d":"2024-05-17","v":47.3},{"d":"2024-05-24","v":45.2},{"d":"2024-05-29","v":42.2},{"d":"2024-06-03","v":45.4},{"d":"2024-06-12","v":45.2},{"d":"2024-06-17","v":43.3},{"d":"2024-06-24","v":46},{"d":"2024-07-01","v":44.7},{"d":"2024-07-09","v":44.7},{"d":"2024-07-12","v":48.3},{"d":"2024-07-17","v":51.3},{"d":"2024-07-22","v":49.5},{"d":"2024-07-26","v":48.6},{"d":"2024-07-31","v":51.3},{"d":"2024-08-05","v":45.3},{"d":"2024-08-12","v":47.7},{"d":"2024-08-19","v":52.2},{"d":"2024-08-23","v":53.4},{"d":"2024-08-30","v":55.8},{"d":"2024-09-06","v":52.2},{"d":"2024-09-13","v":55.8},{"d":"2024-09-19","v":56.1},{"d":"2024-09-30","v":57.6},{"d":"2024-10-04","v":57.3},{"d":"2024-10-10","v":58},{"d":"2024-10-16","v":60.7},{"d":"2024-10-23","v":58.6},{"d":"2024-11-01","v":56.6},{"d":"2024-11-06","v":62.2},{"d":"2024-11-15","v":60.2},{"d":"2024-11-22","v":64.6},{"d":"2024-11-28","v":64.9},{"d":"2024-12-06","v":60.2},{"d":"2024-12-18","v":53},{"d":"2024-12-23","v":56},{"d":"2024-12-30","v":53.9},{"d":"2025-01-02","v":54.3},{"d":"2025-01-06","v":53.6},{"d":"2025-01-10","v":51.9},{"d":"2025-01-15","v":55.3},{"d":"2025-01-21","v":57.4},{"d":"2025-01-27","v":58.8},{"d":"2025-02-04","v":57.4},{"d":"2025-02-10","v":57.7},{"d":"2025-02-14","v":58.4},{"d":"2025-02-19","v":59.4},{"d":"2025-02-24","v":58},{"d":"2025-02-28","v":57.7},{"d":"2025-03-03","v":54.8},{"d":"2025-03-06","v":55.4},{"d":"2025-03-10","v":53.4},{"d":"2025-03-13","v":49.9},{"d":"2025-03-17","v":53.4},{"d":"2025-03-21","v":53.7},{"d":"2025-03-25","v":54.8},{"d":"2025-03-28","v":54.1},{"d":"2025-03-31","v":52.7},{"d":"2025-04-02","v":53.7},{"d":"2025-04-04","v":45},{"d":"2025-04-08","v":43.5},{"d":"2025-04-09","v":44},{"d":"2025-04-11","v":44.5},{"d":"2025-04-16","v":43.2},{"d":"2025-04-21","v":41.2},{"d":"2025-04-24","v":46.1},{"d":"2025-04-29","v":47.1},{"d":"2025-05-02","v":48.6},{"d":"2025-05-07","v":49.6},{"d":"2025-05-09","v":52.4},{"d":"2025-05-13","v":54.1},{"d":"2025-05-19","v":54},{"d":"2025-05-23","v":50.7},{"d":"2025-05-28","v":52.4},{"d":"2025-06-02","v":53.1},{"d":"2025-06-06","v":55},{"d":"2025-06-11","v":55.3},{"d":"2025-06-16","v":54.3},{"d":"2025-06-20","v":54.3},{"d":"2025-06-24","v":56.3},{"d":"2025-06-27","v":58.4},{"d":"2025-07-03","v":60.8},{"d":"2025-07-07","v":60.1},{"d":"2025-07-11","v":60.8},{"d":"2025-07-15","v":58.7},{"d":"2025-07-18","v":60.1},{"d":"2025-07-23","v":61.8},{"d":"2025-07-28","v":61.6},{"d":"2025-08-01","v":58.1},{"d":"2025-08-06","v":59.8},{"d":"2025-08-12","v":63.6},{"d":"2025-08-18","v":63.6},{"d":"2025-08-21","v":62.9},{"d":"2025-08-26","v":64.9},{"d":"2025-09-02","v":65.5},{"d":"2025-09-05","v":65.1},{"d":"2025-09-09","v":64.2},{"d":"2025-09-12","v":65.5},{"d":"2025-09-17","v":66.2},{"d":"2025-09-22","v":66.9},{"d":"2025-09-25","v":65.9},{"d":"2025-09-30","v":67.9},{"d":"2025-10-03","v":69.4},{"d":"2025-10-08","v":70.1},{"d":"2025-10-10","v":65.6},{"d":"2025-10-14","v":68},{"d":"2025-10-17","v":68.7},{"d":"2025-10-21","v":70.1},{"d":"2025-10-24","v":72.2},{"d":"2025-10-29","v":70.1},{"d":"2025-11-03","v":69.6},{"d":"2025-11-05","v":68.9},{"d":"2025-11-12","v":72.7},{"d":"2025-11-17","v":68.9},{"d":"2025-11-20","v":65.8},{"d":"2025-11-24","v":69.6},{"d":"2025-11-28","v":72.4},{"d":"2025-12-02","v":73.1},{"d":"2025-12-05","v":72.8},{"d":"2025-12-11","v":74.5},{"d":"2025-12-17","v":72.4},{"d":"2025-12-23","v":75.2},{"d":"2025-12-29","v":74.9},{"d":"2026-01-02","v":73.9},{"d":"2026-01-05","v":76.9},{"d":"2026-01-08","v":78.2},{"d":"2026-01-12","v":77.8},{"d":"2026-01-16","v":78.2},{"d":"2026-01-19","v":75.2},{"d":"2026-01-21","v":77.5},{"d":"2026-01-26","v":77.3},{"d":"2026-01-28","v":77.5},{"d":"2026-02-02","v":79.4},{"d":"2026-02-04","v":81},{"d":"2026-02-06","v":81.7},{"d":"2026-02-11","v":80},{"d":"2026-02-16","v":80.7},{"d":"2026-02-20","v":80},{"d":"2026-02-23","v":81.4},{"d":"2026-02-27","v":81.4},{"d":"2026-03-02","v":80.1},{"d":"2026-03-06","v":76.8},{"d":"2026-03-10","v":75.5},{"d":"2026-03-13","v":75.2},{"d":"2026-03-18","v":71.5},{"d":"2026-03-23","v":73.5},{"d":"2026-03-27","v":71.2},{"d":"2026-03-30","v":73.5},{"d":"2026-04-02","v":74.8},{"d":"2026-04-07","v":78.1},{"d":"2026-04-10","v":78.1},{"d":"2026-04-14","v":80.7},{"d":"2026-04-17","v":81.4},{"d":"2026-04-22","v":80.7},{"d":"2026-04-27","v":81.4},{"d":"2026-04-29","v":82.7},{"d":"2026-05-04","v":84.9},{"d":"2026-05-08","v":85.2},{"d":"2026-05-13","v":84.2},{"d":"2026-05-15","v":85.5},{"d":"2026-05-20","v":87.5},{"d":"2026-05-22","v":87.5},{"d":"2026-05-28","v":86.9},{"d":"2026-06-01","v":88.4},{"d":"2026-06-04","v":86.7},{"d":"2026-06-08","v":85},{"d":"2026-06-11","v":88.7},{"d":"2026-06-15","v":89},{"d":"2026-06-17","v":87},{"d":"2026-06-22","v":87},{"d":"2026-06-25","v":87.4},{"d":"2026-06-29","v":88.7},{"d":"2026-07-02","v":90.9},{"d":"2026-07-07","v":90.2},{"d":"2026-07-10","v":91.2},{"d":"2026-07-14","v":91.9},{"d":"2026-07-17","v":89.9},{"d":"2026-07-20","v":90.9},{"d":"2026-07-24","v":92.2},{"d":"2026-07-27","v":93.5},{"d":"2026-07-29","v":91.6},{"d":"2026-07-31","v":94.8},{"d":"2026-08-04","v":94.7},{"d":"2026-08-07","v":95.2}]
},
"layer":[
 {"data":{"values":[{}]},
  "mark":{"type":"rule","color":"#000000","strokeWidth":1.5},
  "encoding":{"y":{"datum":0,"type":"quantitative","scale":{"domain":[-10,160],"nice":false,"zero":false},
   "axis":{"orient":"right","title":null,"values":[-8,-4,0,4,8,12,16,20,24,28,32,36,40,44,48,52,56,60,64,68,72,76,80,84,88,92,96,100,104,108,112,116,120,124,128,132,136,140,144,148,152,156,160],
    "labelExpr":"datum.value % 20 == 0 && datum.value >= 0 ? '' + datum.value : ''",
    "tickSize":{"condition":{"test":"datum.value % 20 == 0","value":9},"value":5},
    "labelPadding":10,"grid":false}}}},
 {"data":{"name":"G"},
  "mark":{"type":"line","strokeWidth":2.9,"strokeJoin":"round"},
  "encoding":{
   "x":{"field":"d","type":"temporal","scale":{"domain":[{"year":2022,"month":10,"date":11},{"year":2026,"month":11,"date":5}],"nice":false},
    "axis":{"title":null,"values":[{"year":2022,"month":11,"date":21},{"year":2023,"month":1,"date":1},{"year":2023,"month":4,"date":1},{"year":2023,"month":7,"date":1},{"year":2023,"month":10,"date":1},{"year":2024,"month":1,"date":1},{"year":2024,"month":4,"date":1},{"year":2024,"month":7,"date":1},{"year":2024,"month":10,"date":1},{"year":2025,"month":1,"date":1},{"year":2025,"month":4,"date":1},{"year":2025,"month":7,"date":1},{"year":2025,"month":10,"date":1},{"year":2026,"month":1,"date":1},{"year":2026,"month":4,"date":1},{"year":2026,"month":6,"date":4},{"year":2026,"month":7,"date":1},{"year":2026,"month":10,"date":1}],
     "labelExpr":"(date(datum.value) != 1 || (month(datum.value) == 6 && year(datum.value) < 2026)) ? timeFormat(datum.value, '%Y') : ''",
     "tickSize":{"condition":{"test":"month(datum.value) == 0","value":9},"value":5},
     "tickOpacity":{"condition":{"test":"date(datum.value) != 1","value":0},"value":1},
     "grid":true,
     "gridOpacity":{"condition":{"test":"month(datum.value) == 0 && date(datum.value) == 1","value":1},"value":0},
     "labelPadding":8}},
   "y":{"field":"v","type":"quantitative","scale":{"domain":[-10,160],"nice":false,"zero":false},
    "axis":{"orient":"left","title":null,"values":[-8,-4,0,4,8,12,16,20,24,28,32,36,40,44,48,52,56,60,64,68,72,76,80,84,88,92,96,100,104,108,112,116,120,124,128,132,136,140,144,148,152,156,160],
     "labelExpr":"datum.value % 20 == 0 && datum.value >= 0 ? '' + datum.value : ''",
     "tickSize":{"condition":{"test":"datum.value % 20 == 0","value":9},"value":5},
     "labelPadding":10,"grid":true,
     "gridOpacity":{"condition":{"test":"datum.value % 20 == 0 && datum.value > 0 && datum.value < 160","value":1},"value":0}}},
   "color":{"datum":"S&P 500 Growth (Aug 07 = 148.6)",
    "scale":{"domain":["S&P 500 Growth (Aug 07 = 148.6)","S&P 500 Growth Total Return (Aug 07 = 156.8)","S&P 500 Value (Aug 07 = 80.4)","S&P 500 Value Total Return (Aug 07 = 95.2)"],"range":["#0000ff","#0000ff","#ff0000","#ff0000"]},
    "legend":{"orient":"none","legendX":4,"legendY":98,"title":null,"direction":"vertical","padding":6,"symbolType":"stroke","symbolSize":3364,"symbolStrokeWidth":2.8,"clipHeight":27,"rowPadding":0,"labelOffset":8,"labelFont":"Liberation Sans","labelFontSize":24,"labelFontWeight":"bold","labelColor":"#000000","labelLimit":0}},
   "strokeDash":{"datum":"S&P 500 Growth (Aug 07 = 148.6)",
    "scale":{"domain":["S&P 500 Growth (Aug 07 = 148.6)","S&P 500 Growth Total Return (Aug 07 = 156.8)","S&P 500 Value (Aug 07 = 80.4)","S&P 500 Value Total Return (Aug 07 = 95.2)"],"range":[[1,0],[3,2.6],[1,0],[3,2.6]]}}}},
 {"data":{"name":"GT"},
  "mark":{"type":"line","strokeWidth":2.9,"strokeJoin":"round"},
  "encoding":{"x":{"field":"d","type":"temporal"},"y":{"field":"v","type":"quantitative","axis":null},
   "color":{"datum":"S&P 500 Growth Total Return (Aug 07 = 156.8)"},"strokeDash":{"datum":"S&P 500 Growth Total Return (Aug 07 = 156.8)"}}},
 {"data":{"name":"V"},
  "mark":{"type":"line","strokeWidth":2.9,"strokeJoin":"round"},
  "encoding":{"x":{"field":"d","type":"temporal"},"y":{"field":"v","type":"quantitative","axis":null},
   "color":{"datum":"S&P 500 Value (Aug 07 = 80.4)"},"strokeDash":{"datum":"S&P 500 Value (Aug 07 = 80.4)"}}},
 {"data":{"name":"VT"},
  "mark":{"type":"line","strokeWidth":2.9,"strokeJoin":"round"},
  "encoding":{"x":{"field":"d","type":"temporal"},"y":{"field":"v","type":"quantitative","axis":null},
   "color":{"datum":"S&P 500 Value Total Return (Aug 07 = 95.2)"},"strokeDash":{"datum":"S&P 500 Value Total Return (Aug 07 = 95.2)"}}},
 {"data":{"values":[{}]},
  "mark":{"type":"rect","fill":"#2f7f72"},
  "encoding":{"x":{"datum":{"year":2022,"month":10,"date":14},"type":"temporal"},"x2":{"datum":{"year":2024,"month":7,"date":16}},
   "y":{"datum":159.3,"type":"quantitative","axis":null},"y2":{"datum":143.0}}},
 {"data":{"values":[{}]},
  "mark":{"type":"rect","fill":"#ffffff","stroke":"#000000","strokeWidth":2.5},
  "encoding":{"x":{"datum":{"year":2022,"month":10,"date":14},"type":"temporal"},"x2":{"datum":{"year":2024,"month":3,"date":15}},
   "y":{"datum":142.3,"type":"quantitative","axis":null},"y2":{"datum":121.3}}},
 {"data":{"values":[{}]},
  "mark":{"type":"text","text":["S&P 500 GROWTH AND VALUE PERFORMANCE","(indexed to 0 on Oct 11, 2022)"],"lineHeight":41,"align":"center","baseline":"middle","font":"Liberation Sans","fontSize":30.5,"fontWeight":"bold","color":"#ffffff"},
  "encoding":{"x":{"datum":{"year":2023,"month":8,"date":30},"type":"temporal"},"y":{"datum":154.5,"type":"quantitative","axis":null}}}
],
"resolve":{"axis":{"y":"independent"}}
}
